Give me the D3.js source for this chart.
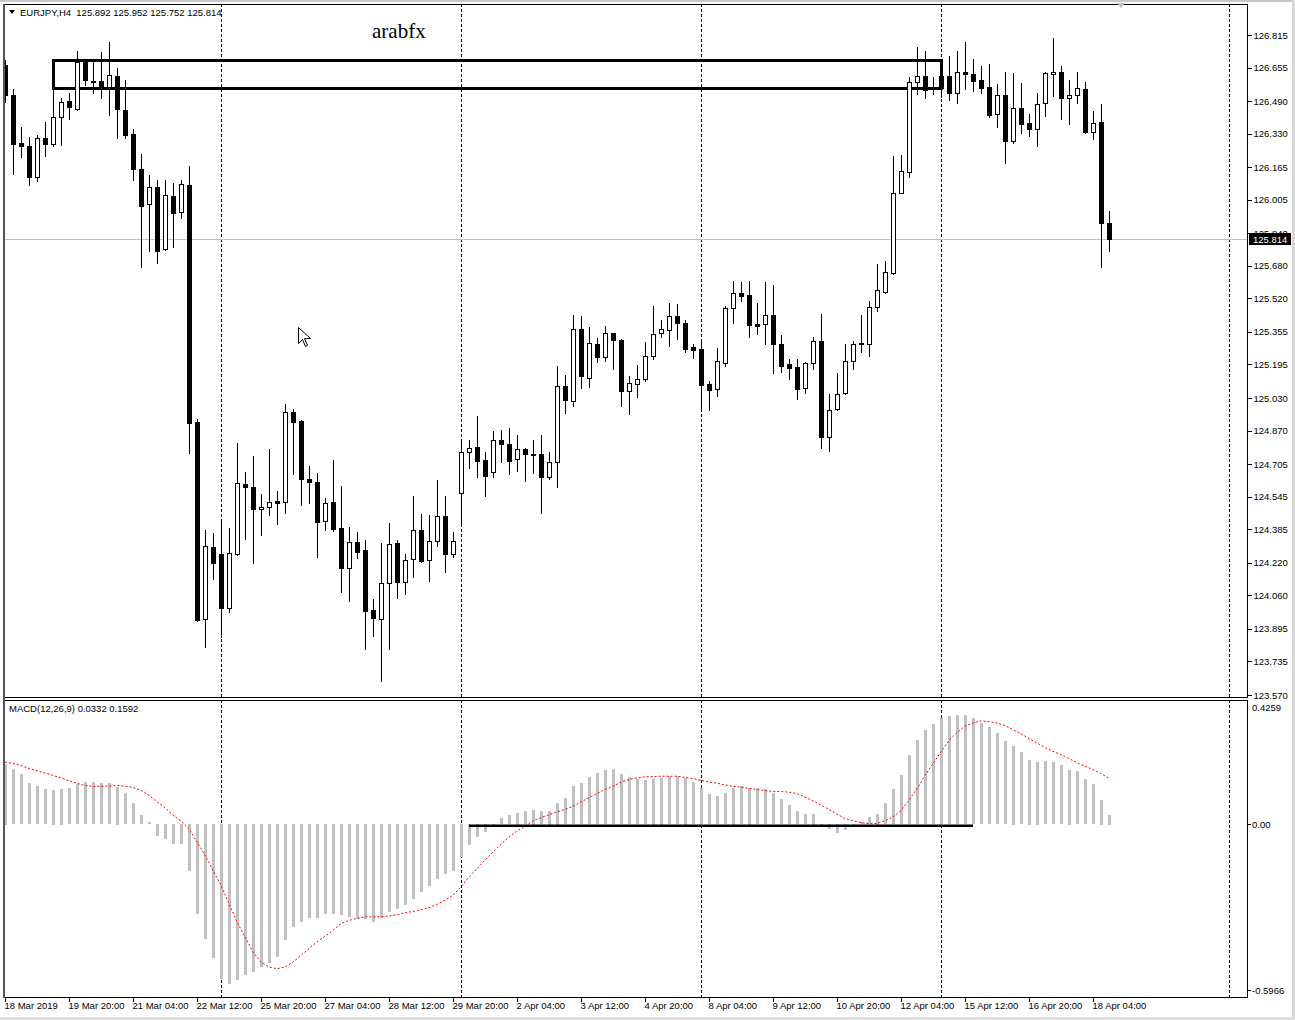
<!DOCTYPE html>
<html><head><meta charset="utf-8">
<script src="https://cdn.jsdelivr.net/npm/d3@7"></script>
<style>
body{margin:0;background:#fff;}
svg{display:block;}
text{font-family:"Liberation Sans",Arial,sans-serif;}
</style>
</head><body>
<svg id="c" width="1295" height="1020"></svg>
<script>
// ---------- DATA ----------
const symbol = "EURJPY,H4";
const lastBar = ["125.892","125.952","125.752","125.814"];
const open = [126.667,126.520,126.284,126.269,126.117,126.309,126.279,126.412,126.491,126.451,
126.682,126.589,126.589,126.559,126.613,126.446,126.328,126.156,125.984,126.068,
125.763,126.024,125.945,126.078,124.912,123.944,124.298,124.264,123.998,124.264,
124.608,124.593,124.485,124.495,124.524,124.519,124.962,124.917,124.632,124.618,
124.426,124.519,124.391,124.195,124.323,124.283,123.988,123.944,124.121,124.318,
124.126,124.239,124.382,124.234,124.327,124.450,124.264,124.563,124.765,124.790,
124.726,124.667,124.824,124.804,124.731,124.780,124.755,124.755,124.642,124.716,
125.089,125.016,125.370,125.129,125.296,125.232,125.350,125.316,125.065,125.099,
125.124,125.237,125.350,125.365,125.434,125.399,125.281,125.271,125.099,125.075,
125.203,125.473,125.547,125.537,125.394,125.394,125.438,125.296,125.198,125.183,
125.080,125.203,125.311,124.839,124.976,125.055,125.212,125.301,125.296,125.478,
125.552,125.645,126.038,126.141,126.584,126.613,126.545,126.613,126.613,126.530,
126.633,126.623,126.594,126.559,126.427,126.520,126.294,126.456,126.382,126.353,
126.481,126.623,126.633,126.505,126.520,126.549,126.338,126.387,125.892];
const high = [126.692,126.549,126.363,126.314,126.323,126.387,126.545,126.505,126.530,126.736,
126.692,126.682,126.731,126.781,126.653,126.594,126.353,126.230,126.127,126.102,
126.102,126.087,126.102,126.171,124.927,124.382,124.367,124.431,124.391,124.809,
124.667,124.745,124.559,124.780,124.573,125.001,124.976,124.922,124.696,124.662,
124.539,124.726,124.598,124.396,124.372,124.332,124.042,124.318,124.416,124.332,
124.264,124.549,124.460,124.455,124.627,124.549,124.372,124.814,124.824,124.942,
124.765,124.868,124.873,124.883,124.849,124.785,124.824,124.849,124.765,125.188,
125.144,125.438,125.434,125.380,125.325,125.384,125.352,125.318,125.139,125.193,
125.306,125.483,125.414,125.497,125.492,125.414,125.296,125.321,125.114,125.276,
125.483,125.606,125.601,125.606,125.497,125.601,125.586,125.340,125.222,125.222,
125.207,125.330,125.443,125.050,125.153,125.296,125.311,125.438,125.507,125.689,
125.704,126.220,126.225,126.608,126.756,126.736,126.608,126.682,126.712,126.736,
126.781,126.697,126.662,126.672,126.574,126.633,126.628,126.579,126.427,126.530,
126.633,126.800,126.662,126.594,126.633,126.584,126.441,126.476,125.952];
const low = [126.486,126.132,126.215,126.078,126.097,126.220,126.269,126.274,126.402,126.446,
126.569,126.530,126.505,126.422,126.309,126.309,126.102,125.674,125.753,125.694,
125.758,125.773,125.915,124.760,123.934,123.806,124.141,123.856,123.978,124.259,
124.337,124.219,124.357,124.455,124.411,124.465,124.657,124.504,124.514,124.249,
124.382,124.377,124.077,124.032,124.244,123.797,123.860,123.639,123.797,124.047,
124.067,124.151,124.224,124.131,124.303,124.175,124.249,124.416,124.686,124.642,
124.549,124.642,124.716,124.657,124.672,124.622,124.662,124.465,124.632,124.593,
124.957,124.991,125.080,125.085,125.207,125.212,125.173,124.991,124.952,125.035,
125.114,125.222,125.330,125.286,125.321,125.257,125.227,124.981,124.971,125.040,
125.188,125.399,125.507,125.330,125.345,125.296,125.153,125.158,125.124,125.026,
125.055,125.173,124.785,124.770,124.971,125.050,125.173,125.257,125.237,125.458,
125.547,125.640,126.036,126.117,126.525,126.505,126.525,126.510,126.495,126.481,
126.549,126.540,126.530,126.412,126.363,126.186,126.284,126.333,126.318,126.269,
126.417,126.515,126.402,126.377,126.481,126.333,126.304,125.674,125.752];
const close = [126.520,126.279,126.269,126.117,126.309,126.279,126.412,126.486,126.461,126.682,
126.594,126.584,126.559,126.618,126.451,126.323,126.156,125.974,126.068,125.753,
126.028,125.940,126.083,124.908,123.939,124.303,124.219,123.998,124.269,124.613,
124.593,124.485,124.495,124.519,124.514,124.962,124.912,124.632,124.618,124.421,
124.514,124.386,124.195,124.323,124.273,123.983,123.949,124.121,124.313,124.126,
124.234,124.382,124.229,124.327,124.450,124.264,124.327,124.765,124.785,124.721,
124.647,124.824,124.804,124.721,124.780,124.755,124.750,124.642,124.716,125.089,
125.021,125.370,125.139,125.301,125.232,125.350,125.316,125.065,125.104,125.124,
125.237,125.345,125.370,125.434,125.399,125.271,125.266,125.094,125.070,125.212,
125.473,125.547,125.532,125.389,125.384,125.438,125.296,125.188,125.178,125.075,
125.203,125.311,124.839,124.971,125.050,125.212,125.296,125.296,125.478,125.561,
125.650,126.038,126.146,126.584,126.613,126.545,126.543,126.554,126.530,126.633,
126.623,126.589,126.554,126.422,126.520,126.294,126.456,126.377,126.353,126.476,
126.628,126.633,126.505,126.520,126.554,126.338,126.382,125.891,125.814];
const macdHist = [0.210,0.190,0.173,0.142,0.131,0.121,0.120,0.123,0.124,0.138,
0.145,0.145,0.142,0.142,0.130,0.107,0.073,0.031,0.008,-0.041,
-0.053,-0.069,-0.069,-0.161,-0.311,-0.396,-0.462,-0.537,-0.553,-0.539,
-0.522,-0.512,-0.493,-0.479,-0.459,-0.401,-0.357,-0.337,-0.326,-0.324,
-0.312,-0.310,-0.314,-0.321,-0.328,-0.328,-0.339,-0.326,-0.304,-0.294,
-0.279,-0.260,-0.235,-0.214,-0.191,-0.174,-0.162,-0.114,-0.073,-0.044,
-0.028,-0.005,0.021,0.031,0.040,0.046,0.051,0.045,0.047,0.075,
0.091,0.131,0.142,0.164,0.177,0.188,0.191,0.173,0.162,0.155,
0.152,0.158,0.161,0.166,0.166,0.161,0.145,0.124,0.104,0.097,
0.108,0.127,0.132,0.127,0.124,0.122,0.107,0.088,0.066,0.046,
0.036,0.037,-0.002,-0.018,-0.030,-0.021,-0.003,0.008,0.025,0.037,
0.073,0.122,0.170,0.238,0.290,0.325,0.345,0.367,0.374,0.377,
0.377,0.367,0.350,0.336,0.315,0.288,0.272,0.250,0.223,0.216,
0.218,0.214,0.204,0.189,0.184,0.157,0.139,0.085,0.0332];
const macdSignal = [0.215,0.210,0.203,0.193,0.185,0.177,0.169,0.160,0.150,0.142,
0.134,0.131,0.131,0.132,0.134,0.132,0.127,0.117,0.100,0.077,
0.058,0.031,0.012,-0.015,-0.061,-0.107,-0.159,-0.211,-0.274,-0.337,
-0.389,-0.441,-0.476,-0.493,-0.499,-0.493,-0.476,-0.453,-0.429,-0.406,
-0.387,-0.366,-0.343,-0.332,-0.325,-0.320,-0.320,-0.319,-0.317,-0.312,
-0.306,-0.301,-0.295,-0.288,-0.276,-0.263,-0.245,-0.216,-0.182,-0.153,
-0.124,-0.096,-0.069,-0.044,-0.023,-0.007,0.012,0.023,0.033,0.043,
0.051,0.062,0.077,0.092,0.106,0.120,0.131,0.146,0.155,0.160,
0.164,0.165,0.166,0.166,0.166,0.162,0.158,0.152,0.146,0.142,
0.136,0.131,0.128,0.124,0.120,0.116,0.114,0.113,0.111,0.106,
0.094,0.081,0.067,0.051,0.035,0.020,0.012,0.006,0.002,0.003,
0.012,0.025,0.048,0.083,0.123,0.169,0.210,0.250,0.290,0.317,
0.339,0.350,0.357,0.355,0.350,0.341,0.327,0.313,0.296,0.281,
0.265,0.252,0.241,0.227,0.213,0.201,0.189,0.175,0.1592];
const priceTicks = ["126.815","126.655","126.490","126.330","126.165","126.005","125.840","125.680","125.520","125.355","125.195",
"125.030","124.870","124.705","124.545","124.385","124.220","124.060","123.895","123.735","123.570"];
const macdTicks = ["0.4259","0.00","-0.5966"];
const timeLabels = ["18 Mar 2019","19 Mar 20:00","21 Mar 04:00","22 Mar 12:00","25 Mar 20:00","27 Mar 04:00","28 Mar 12:00",
"29 Mar 20:00","2 Apr 04:00","3 Apr 12:00","4 Apr 20:00","8 Apr 04:00","9 Apr 12:00","10 Apr 20:00","12 Apr 04:00",
"15 Apr 12:00","16 Apr 20:00","18 Apr 04:00"];
const timeLabelBars = [0,8,16,24,32,40,48,56,64,72,80,88,96,104,112,120,128,136];
const separatorBars = [27,57,87,117,153];
const zoneBars = [6,117];
const zonePrices = [126.692,126.554];
const macdMarkBars = [58,121];
const macdMarkValue = -0.005;
const lastPrice = 125.814;
const macdLabel = "MACD(12,26,9) 0.0332 0.1592";
const watermark = "arabfx";

// ---------- LAYOUT ----------
const svg = d3.select("#c");
const L = 4, R = 1247;
const mainTop = 4, mainBot = 697, macdTop = 700, macdBot = 997;
const x = d3.scaleLinear().domain([0, 138]).range([5, 1109]);
const y = d3.scaleLinear().domain([123.570, 126.815]).range([695, 35]);
const ym = d3.scaleLinear().domain([-0.5966, 0.4259]).range([997, 701]);
const px = v => Math.round(v) + 0.5;

// frame
svg.append("rect").attr("x",0).attr("y",0).attr("width",1295).attr("height",1020).attr("fill","#fff");
svg.append("rect").attr("x",0).attr("y",0).attr("width",1295).attr("height",2).attr("fill","#c8c8c8");
svg.append("rect").attr("x",1292).attr("y",0).attr("width",3).attr("height",1020).attr("fill","#d8d8d8");
svg.append("rect").attr("x",0).attr("y",1017).attr("width",1295).attr("height",3).attr("fill","#e0e0e0");

svg.append("clipPath").attr("id","cm").append("rect").attr("x",L+1).attr("y",mainTop+1).attr("width",R-L-1).attr("height",mainBot-mainTop-1);
svg.append("clipPath").attr("id","cd").append("rect").attr("x",L+1).attr("y",macdTop+1).attr("width",R-L-1).attr("height",macdBot-macdTop-1);

const gMain = svg.append("g").attr("clip-path","url(#cm)");
const gMacd = svg.append("g").attr("clip-path","url(#cd)");

// separators
[ [gMain, mainTop, mainBot], [gMacd, macdTop, macdBot] ].forEach(([g,t,b])=>{
  g.selectAll("line.sep").data(separatorBars).join("line").attr("class","sep")
   .attr("x1",d=>px(x(d))).attr("x2",d=>px(x(d))).attr("y1",t).attr("y2",b)
   .attr("stroke","#000").attr("stroke-width",1).attr("stroke-dasharray","3,2").attr("shape-rendering","crispEdges");
});

// last price line
gMain.append("line").attr("x1",L).attr("x2",R).attr("y1",px(y(lastPrice))).attr("y2",px(y(lastPrice)))
  .attr("stroke","#c0c0c0").attr("shape-rendering","crispEdges");

// zone rectangle
gMain.append("rect")
  .attr("x", Math.round(x(zoneBars[0]))+0.5).attr("y", Math.round(y(zonePrices[0]))+0.5)
  .attr("width", Math.round(x(zoneBars[1])) - Math.round(x(zoneBars[0])))
  .attr("height", Math.round(y(zonePrices[1])) - Math.round(y(zonePrices[0])))
  .attr("fill","none").attr("stroke","#000").attr("stroke-width",3);

// candles
const idx = d3.range(open.length);
const cg = gMain.append("g").attr("shape-rendering","crispEdges");
cg.selectAll("line.wick").data(idx).join("line").attr("class","wick")
  .attr("x1",i=>px(x(i))).attr("x2",i=>px(x(i)))
  .attr("y1",i=>Math.round(y(high[i]))).attr("y2",i=>Math.round(y(low[i]))+1)
  .attr("stroke","#000");
cg.selectAll("rect.body").data(idx).join("rect").attr("class","body")
  .attr("x",i=>Math.round(x(i))-2+0.5)
  .attr("y",i=>Math.round(y(Math.max(open[i],close[i])))+0.5)
  .attr("width",4)
  .attr("height",i=>Math.max(0, Math.round(y(Math.min(open[i],close[i]))) - Math.round(y(Math.max(open[i],close[i])))))
  .attr("fill",i=>close[i] < open[i] ? "#000" : "#fff")
  .attr("stroke","#000");

// MACD histogram
gMacd.append("g").attr("shape-rendering","crispEdges").selectAll("rect").data(idx).join("rect")
  .attr("x",i=>Math.round(x(i))-1)
  .attr("width",3)
  .attr("y",i=>Math.round(Math.min(ym(0), ym(macdHist[i]))))
  .attr("height",i=>Math.max(1, Math.round(Math.abs(ym(macdHist[i]) - ym(0)))))
  .attr("fill","#c0c0c0");
// signal
gMacd.append("path").datum(idx)
  .attr("d", d3.line().x(i=>x(i)).y(i=>ym(macdSignal[i])))
  .attr("fill","none").attr("stroke","#ff0000").attr("stroke-width",1).attr("stroke-dasharray","2,2");
// zero mark line
gMacd.append("line").attr("x1",x(macdMarkBars[0])).attr("x2",x(macdMarkBars[1]))
  .attr("y1",ym(macdMarkValue)).attr("y2",ym(macdMarkValue)).attr("stroke","#000").attr("stroke-width",2.5);

// panel borders
[[mainTop,mainBot],[macdTop,macdBot]].forEach(([t,b])=>{
  svg.append("rect").attr("x",L+0.5).attr("y",t+0.5).attr("width",R-L).attr("height",b-t)
    .attr("fill","none").attr("stroke","#000").attr("shape-rendering","crispEdges");
});
svg.append("line").attr("x1",L).attr("x2",L).attr("y1",mainTop).attr("y2",macdBot+1).attr("stroke","#555").attr("stroke-width",2);

// price axis
const pAxis = svg.append("g").attr("transform",`translate(${R+0.5},0)`)
  .call(d3.axisRight(y).tickValues(priceTicks.map(Number)).tickFormat((d,i)=>priceTicks[i]).tickSize(4).tickPadding(2));
pAxis.select(".domain").remove();
pAxis.selectAll(".tick line").attr("stroke","#000").attr("shape-rendering","crispEdges");
pAxis.selectAll(".tick text").attr("fill","#000").style("font-size","9.5px").style("font-family","'Liberation Sans',Arial,sans-serif");

// last price box
const lpY = Math.round(y(lastPrice));
svg.append("rect").attr("x",R+2).attr("y",lpY-6).attr("width",42).attr("height",12).attr("fill","#000");
svg.append("text").attr("x",R+6).attr("y",lpY+4).attr("fill","#fff").style("font-size","9.5px").text(lastPrice.toFixed(3));

// macd axis labels
const macdVals = macdTicks.map(Number);
const macdOff = [6, 0, -7];
svg.selectAll("line.mt").data(macdVals).join("line").attr("class","mt")
  .attr("x1",R).attr("x2",R+4).attr("y1",(d,i)=>px(ym(d)+macdOff[i])).attr("y2",(d,i)=>px(ym(d)+macdOff[i]))
  .attr("stroke",(d,i)=>i===0?"none":"#000").attr("shape-rendering","crispEdges");
svg.selectAll("text.mt").data(macdVals).join("text").attr("class","mt")
  .attr("x",R+5).attr("y",(d,i)=>ym(d)+macdOff[i]+3.5)
  .style("font-size","9.5px").attr("fill","#000").text((d,i)=>macdTicks[i]);

// time axis
const tAxis = svg.append("g").attr("transform",`translate(0,${macdBot+0.5})`)
  .call(d3.axisBottom(x).tickValues(timeLabelBars).tickFormat((d,i)=>timeLabels[i]).tickSize(4).tickPadding(2));
tAxis.select(".domain").remove();
tAxis.selectAll(".tick line").attr("stroke","#000").attr("shape-rendering","crispEdges");
tAxis.selectAll(".tick text").attr("text-anchor","start").attr("x",-1).attr("y",5).attr("dy","0.71em")
  .attr("fill","#000").style("font-size","9.5px").style("font-family","'Liberation Sans',Arial,sans-serif");

// header
svg.append("path").attr("d","M9,10 L15,10 L12,14 Z").attr("fill","#000");
svg.append("text").attr("x",20).attr("y",16).style("font-size","9.5px").style("white-space","pre").attr("fill","#000")
  .text(symbol + "  " + lastBar.join(" "));
svg.append("text").attr("x",9).attr("y",712).style("font-size","9.5px").attr("fill","#000").text(macdLabel);

// watermark
svg.append("text").attr("x",372).attr("y",38).style("font-family","'Liberation Serif','Times New Roman',serif")
  .style("font-size","21px").attr("fill","#000").text(watermark);

// small grey marker top right
svg.append("path").attr("d","M1117,3 L1125,3 L1121,8 Z").attr("fill","#c0c0c0");

// mouse cursor
svg.append("path").attr("d","M298.5,327.5 L298.5,343.5 L302.5,339.5 L305.5,346.5 L307.5,345.5 L304.5,338.5 L310.5,338.5 Z")
  .attr("fill","#fff").attr("stroke","#000").attr("stroke-width",1);
</script>
</body></html>
